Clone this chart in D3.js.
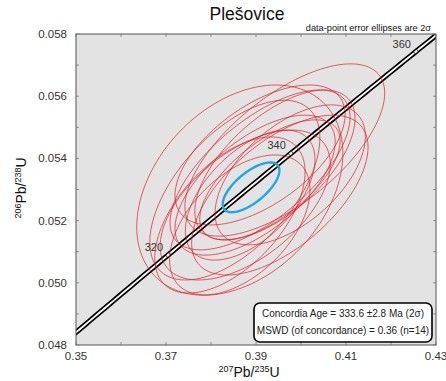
<!DOCTYPE html>
<html><head><meta charset="utf-8">
<script src="https://cdn.jsdelivr.net/npm/d3@7"></script>
<style>body{margin:0;background:#fff}svg{display:block}</style>
</head><body>
<svg id="c" width="446" height="381"></svg>
<script>
// ---- data ----
const title = "Plešovice";
const xTicks = [0.35, 0.37, 0.39, 0.41, 0.43];
const yTicks = [0.048, 0.050, 0.052, 0.054, 0.056, 0.058];
const ageLabels = [320, 340, 360];
// data-point ellipses: 207Pb/235U, 206Pb/238U, 2σ errors, error correlation
const ellX   = [0.3964, 0.3953, 0.3864, 0.3898, 0.3876, 0.3842, 0.3909, 0.3931, 0.3887, 0.3853, 0.3942, 0.3976, 0.3864, 0.3909];
const ellY   = [0.05427,0.05282,0.05298,0.05314,0.05250,0.05218,0.05363,0.05331,0.05282,0.05298,0.05379,0.05347,0.05186,0.05411];
const ellErrX= [0.0222, 0.0196, 0.0229, 0.0178, 0.0189, 0.0167, 0.0200, 0.0156, 0.0144, 0.0189, 0.0178, 0.0167, 0.0156, 0.0189];
const ellErrY= [0.00277,0.00257,0.00338,0.00225,0.00241,0.00251,0.00257,0.00193,0.00209,0.00289,0.00241,0.00225,0.00225,0.00225];
const ellRho = [0.66, 0.60, 0.35, 0.62, 0.55, 0.55, 0.66, 0.65, 0.55, 0.58, 0.62, 0.55, 0.50, 0.58];
// concordia age ellipse
const concX = [0.3889], concY = [0.05307], concErrX = [0.0063], concErrY = [0.00080], concRho = [0.68];
const legendLines = ["Concordia Age = 333.6 ±2.8 Ma (2σ)", "MSWD (of concordance) = 0.36 (n=14)"];

// ---- layout ----
const svg = d3.select("#c");
const L = 76, R = 436, T = 34, B = 345;
const x = d3.scaleLinear().domain([0.35, 0.43]).range([L, R]);
const y = d3.scaleLinear().domain([0.048, 0.058]).range([B, T]);
const font = "'Liberation Sans', Arial, sans-serif";

svg.append("defs").append("clipPath").attr("id", "clip")
  .append("rect").attr("x", L).attr("y", T).attr("width", R - L).attr("height", B - T);

svg.append("rect").attr("x", L).attr("y", T).attr("width", R - L).attr("height", B - T)
  .attr("fill", "#e3e3e3");

const plot = svg.append("g").attr("clip-path", "url(#clip)");

function ellipsePts(cx, cy, ex, ey, rho) {
  const pts = [];
  const s = Math.sqrt(1 - rho * rho);
  for (let i = 0; i <= 120; i++) {
    const t = i / 120 * 2 * Math.PI;
    pts.push([x(cx + ex * Math.cos(t)), y(cy + ey * (rho * Math.cos(t) + s * Math.sin(t)))]);
  }
  return pts;
}
const line = d3.line();

// concordia curve
const l238 = 1.55125e-10, l235 = 9.8485e-10;
const cc = d => [Math.exp(l235 * d * 1e6) - 1, Math.exp(l238 * d * 1e6) - 1];
const curve = d3.range(280, 380.1, 0.5).map(t => { const p = cc(t); return [x(p[0]), y(p[1])]; });
plot.append("path").attr("d", line(curve)).attr("fill", "none").attr("stroke", "#000").attr("stroke-width", 5.2);
plot.append("path").attr("d", line(curve)).attr("fill", "none").attr("stroke", "#fff").attr("stroke-width", 1.8);

// age markers + labels
ageLabels.forEach(a => {
  const p = cc(a);
  plot.append("ellipse").attr("cx", x(p[0])).attr("cy", y(p[1])).attr("rx", 2.2).attr("ry", 1.6)
    .attr("transform", `rotate(-40 ${x(p[0])} ${y(p[1])})`)
    .attr("fill", "#fff").attr("stroke", "#000").attr("stroke-width", 0.6);
  plot.append("text").attr("x", x(p[0]) - 5).attr("y", y(p[1]) - 4).attr("text-anchor", "end")
    .attr("font-family", font).attr("font-size", 11).attr("fill", "#333").text(a);
});

// data ellipses
ellX.forEach((cx, i) => {
  plot.append("path").attr("d", line(ellipsePts(cx, ellY[i], ellErrX[i], ellErrY[i], ellRho[i])))
    .attr("fill", "none").attr("stroke", "#e0141c").attr("stroke-width", 0.8).attr("stroke-opacity", 0.85);
});
// concordia age ellipse
plot.append("path").attr("d", line(ellipsePts(concX[0], concY[0], concErrX[0], concErrY[0], concRho[0])))
  .attr("fill", "none").attr("stroke", "#1ba9e6").attr("stroke-width", 2.4);

// frame
svg.append("rect").attr("x", L).attr("y", T).attr("width", R - L).attr("height", B - T)
  .attr("fill", "none").attr("stroke", "#555").attr("stroke-width", 1);

// ticks (inward)
const g = svg.append("g").attr("stroke", "#777").attr("stroke-width", 0.8);
d3.range(0.35, 0.4301, 0.01).forEach(v => {
  g.append("line").attr("x1", x(v)).attr("x2", x(v)).attr("y1", B).attr("y2", B - 3);
  g.append("line").attr("x1", x(v)).attr("x2", x(v)).attr("y1", T).attr("y2", T + 3);
});
d3.range(0.048, 0.05801, 0.001).forEach(v => {
  g.append("line").attr("x1", L).attr("x2", L + 3).attr("y1", y(v)).attr("y2", y(v));
  g.append("line").attr("x1", R).attr("x2", R - 3).attr("y1", y(v)).attr("y2", y(v));
});

// tick labels
xTicks.forEach(v => svg.append("text").attr("x", x(v)).attr("y", 360).attr("text-anchor", "middle")
  .attr("font-family", font).attr("font-size", 11.5).attr("fill", "#333").text(d3.format(".2f")(v)));
yTicks.forEach(v => svg.append("text").attr("x", 67).attr("y", y(v) + 4).attr("text-anchor", "end")
  .attr("font-family", font).attr("font-size", 11.5).attr("fill", "#333").text(d3.format(".3f")(v)));

// axis titles
const xt = svg.append("text").attr("x", 249).attr("y", 377).attr("text-anchor", "middle")
  .attr("font-family", font).attr("font-size", 14).attr("fill", "#111");
xt.append("tspan").attr("font-size", 9).attr("dy", -5).text("207");
xt.append("tspan").attr("dy", 5).text("Pb/");
xt.append("tspan").attr("font-size", 9).attr("dy", -5).text("235");
xt.append("tspan").attr("dy", 5).text("U");

const yt = svg.append("text").attr("transform", "translate(26,188) rotate(-90)").attr("text-anchor", "middle")
  .attr("font-family", font).attr("font-size", 14).attr("fill", "#111");
yt.append("tspan").attr("font-size", 9).attr("dy", -5).text("206");
yt.append("tspan").attr("dy", 5).text("Pb/");
yt.append("tspan").attr("font-size", 9).attr("dy", -5).text("238");
yt.append("tspan").attr("dy", 5).text("U");

// title and note
svg.append("text").attr("x", 247).attr("y", 20).attr("text-anchor", "middle")
  .attr("font-family", font).attr("font-size", 17.5).attr("fill", "#111").text(title);
svg.append("text").attr("x", 431).attr("y", 31).attr("text-anchor", "end")
  .attr("font-family", font).attr("font-size", 9.2).attr("fill", "#111").text("data-point error ellipses are 2σ");

// legend box
svg.append("rect").attr("x", 254).attr("y", 303).attr("width", 178).attr("height", 39).attr("rx", 6)
  .attr("fill", "#fff").attr("stroke", "#000").attr("stroke-width", 1.6);
legendLines.forEach((t, i) => svg.append("text").attr("x", 343).attr("y", 317 + i * 16.5)
  .attr("text-anchor", "middle").attr("font-family", font).attr("font-size", 10).attr("fill", "#222").text(t));
</script>
</body></html>
